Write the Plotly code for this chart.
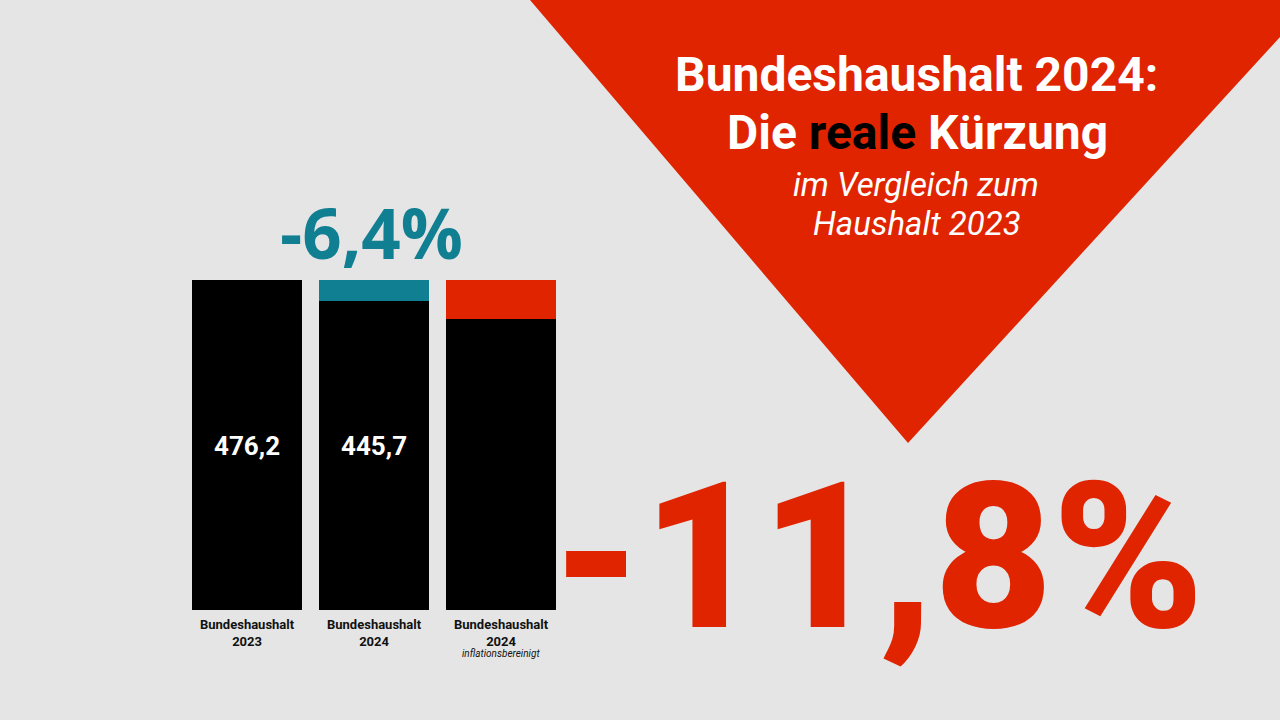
import plotly.graph_objects as go

# ---- data ----
categories = ["Bundeshaushalt 2023", "Bundeshaushalt 2024", "Bundeshaushalt 2024 inflationsbereinigt"]
base_values = [476.2, 445.7, 420.0]          # Mrd. Euro (black part)
cut_values = [0.0, 30.5, 56.2]               # difference to 2023 (coloured top)
value_labels = ["476,2", "445,7", ""]
tick_line1 = ["Bundeshaushalt", "Bundeshaushalt", "Bundeshaushalt"]
tick_line2 = ["2023", "2024", "2024"]
tick_line3 = ["", "", "inflationsbereinigt"]
nominal_change = "-6,4%"
real_change = "-11,8%"

BG = "#e5e5e5"
RED = "#e02400"
TEAL = "#107f92"
W, H = 1280, 720

def px(x):
    return x / W

def py(y):
    return 1 - y / H

xs = [0, 1, 2]
fig = go.Figure()
fig.add_trace(go.Bar(x=xs, y=base_values, marker=dict(color="#000000", line=dict(width=0)),
                     hoverinfo="skip", showlegend=False))
fig.add_trace(go.Bar(x=xs, y=cut_values, marker=dict(color=[BG, TEAL, RED], line=dict(width=0)),
                     hoverinfo="skip", showlegend=False))

annotations = []
# value labels inside bars
for i, lab in enumerate(value_labels):
    if lab:
        annotations.append(dict(x=xs[i], xref="x", y=py(446), yref="paper", text=lab,
                                showarrow=False, font=dict(family="Roboto", size=26, color="white", weight=700),
                                xanchor="center", yanchor="middle"))
# category labels
for i in range(3):
    txt = tick_line1[i] + "<br>" + tick_line2[i]
    annotations.append(dict(x=xs[i], xref="x", y=py(615), yref="paper", text=txt,
                            showarrow=False, font=dict(family="Roboto", size=13, color="#111", weight=700),
                            xanchor="center", yanchor="top", align="center"))
    if tick_line3[i]:
        annotations.append(dict(x=xs[i], xref="x", y=py(653), yref="paper", text=tick_line3[i],
                                showarrow=False, font=dict(family="Roboto", size=10, color="#111", style="italic"),
                                xanchor="center", yanchor="middle"))

# nominal change
annotations.append(dict(x=px(371), y=py(232), xref="paper", yref="paper", text=nominal_change,
                        showarrow=False, font=dict(family="Open Sans", size=69, color=TEAL, weight=700),
                        xanchor="center", yanchor="middle"))
# real change
annotations.append(dict(x=px(550), y=py(557), xref="paper", yref="paper", text=real_change,
                        showarrow=False, borderpad=0,
                        font=dict(family="Roboto", size=204, color=RED, weight=900),
                        xanchor="left", yanchor="middle"))
# title
annotations.append(dict(x=px(916), y=py(75), xref="paper", yref="paper",
                        text="Bundeshaushalt 2024:",
                        showarrow=False, font=dict(family="Roboto", size=48, color="white", weight=700),
                        xanchor="center", yanchor="middle"))
annotations.append(dict(x=px(917), y=py(132), xref="paper", yref="paper",
                        text="Die <span style='color:#000000'>reale</span> Kürzung",
                        showarrow=False, font=dict(family="Roboto", size=48, color="white", weight=700),
                        xanchor="center", yanchor="middle"))
annotations.append(dict(x=px(916), y=py(185), xref="paper", yref="paper",
                        text="im Vergleich zum",
                        showarrow=False, font=dict(family="Roboto", size=33, color="white", style="italic"),
                        xanchor="center", yanchor="middle"))
annotations.append(dict(x=px(917), y=py(223), xref="paper", yref="paper",
                        text="Haushalt 2023",
                        showarrow=False, font=dict(family="Roboto", size=33, color="white", style="italic"),
                        xanchor="center", yanchor="middle"))

tri = f"M {px(530)},{py(0)} L {px(908)},{py(443)} L {px(1280)},{py(37)} L {px(1280)},{py(0)} Z"

fig.update_layout(
    width=W, height=H,
    margin=dict(l=0, r=0, t=0, b=0),
    paper_bgcolor=BG, plot_bgcolor=BG,
    barmode="stack", bargap=17 / 127,
    xaxis=dict(domain=[px(183.5), px(564.5)], range=[-0.5, 2.5], visible=False, fixedrange=True),
    yaxis=dict(domain=[py(610), py(280)], range=[0, 476.2], visible=False, fixedrange=True),
    shapes=[dict(type="path", path=tri, xref="paper", yref="paper", fillcolor=RED,
                 line=dict(width=0), layer="below")],
    annotations=annotations,
    showlegend=False,
)

fig.write_html("out.html", config={"displayModeBar": False},
               post_script="document.body.style.margin='0';document.body.style.background='#e5e5e5';")
